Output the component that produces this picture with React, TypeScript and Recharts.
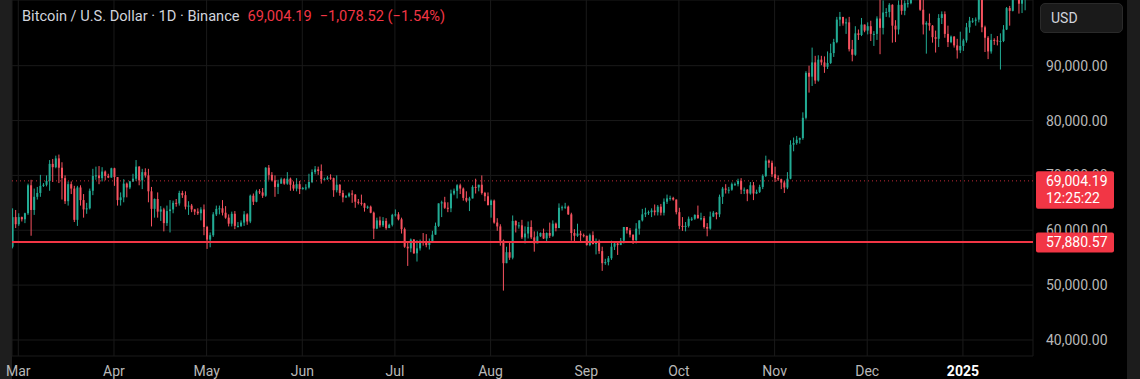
import React from 'react';
import { ComposedChart, Bar, XAxis, YAxis, CartesianGrid, ReferenceLine } from 'recharts';

// daily BTCUSD candles, Binance, 2024-02-28 .. 2025-01-22 (prices in thousands)
const START = Date.UTC(2024, 1, 28);
const DAY = 86400000;
const FIRST_OPEN = 57.0;

const closes = [
  62.4, 61.1,
  62.4, 62.0, 63.1, 68.2, 63.7, 66.1, 66.8, 68.1, 68.3, 69.0, 72.1, 71.5, 73.1, 71.4, 69.5, 65.3, 68.4, 67.6, 61.9, 67.8, 65.5, 63.8, 64.0, 67.2, 69.9, 70.0, 69.5, 70.7, 69.9, 69.6, 71.3,
  69.7, 65.5, 66.0, 68.5, 67.8, 68.9, 69.4, 71.6, 69.1, 70.6, 70.0, 67.1, 63.9, 65.7, 63.4, 63.8, 61.3, 63.5, 63.8, 65.0, 64.9, 66.8, 66.4, 64.3, 64.5, 63.8, 63.4, 63.1, 63.8, 60.6,
  58.3, 59.1, 62.9, 63.9, 64.0, 63.2, 62.3, 61.2, 63.0, 60.8, 60.8, 61.4, 62.9, 61.6, 66.3, 65.2, 67.1, 66.9, 66.3, 71.4, 70.1, 69.1, 67.9, 68.5, 69.3, 68.5, 69.4, 68.3, 67.6, 68.4, 67.5,
  67.7, 67.8, 68.8, 70.6, 71.1, 70.8, 69.3, 69.3, 69.6, 69.5, 67.3, 68.3, 66.8, 66.0, 66.2, 66.7, 66.5, 65.2, 65.0, 64.9, 64.1, 64.3, 63.2, 60.3, 61.8, 60.9, 61.7, 60.4, 61.0, 62.8,
  62.9, 62.0, 60.2, 57.0, 56.7, 58.3, 55.8, 56.7, 58.0, 57.7, 57.3, 57.9, 59.2, 60.8, 64.9, 65.1, 64.1, 64.0, 66.7, 67.2, 68.2, 67.6, 65.9, 65.4, 65.8, 67.9, 67.8, 68.3, 66.8, 66.2, 64.6,
  65.4, 61.4, 60.7, 58.1, 54.0, 56.0, 55.0, 61.7, 60.9, 60.9, 58.7, 59.4, 60.6, 58.7, 57.6, 58.9, 59.5, 58.5, 59.5, 59.0, 61.2, 60.4, 64.1, 64.2, 64.3, 62.9, 59.5, 59.0, 59.4, 59.1, 59.0,
  57.3, 59.1, 57.5, 58.0, 56.2, 54.0, 54.2, 54.9, 57.0, 57.6, 57.3, 58.1, 60.6, 60.0, 59.2, 58.2, 60.3, 61.8, 62.9, 63.2, 63.3, 63.6, 63.3, 64.3, 63.2, 65.2, 65.8, 65.9, 65.6, 63.3,
  60.8, 60.6, 60.8, 62.1, 62.1, 62.8, 62.2, 62.2, 60.6, 60.3, 62.5, 63.2, 62.9, 66.1, 67.6, 67.4, 67.4, 68.4, 68.4, 69.0, 67.4, 67.4, 66.7, 68.2, 66.7, 67.0, 67.9, 69.9, 72.7, 72.3, 70.2,
  69.5, 69.3, 68.7, 67.8, 69.4, 75.6, 75.9, 76.5, 76.8, 80.5, 88.7, 88.0, 90.6, 87.3, 91.1, 90.6, 89.8, 90.5, 92.3, 94.3, 98.4, 98.9, 97.7, 97.9, 93.0, 92.0, 95.9, 95.6, 97.5, 96.4,
  97.2, 95.8, 95.8, 98.6, 96.9, 99.7, 99.8, 101.1, 97.3, 96.6, 101.1, 100.0, 101.4, 101.4, 104.5, 106.1, 106.1, 100.2, 97.5, 97.8, 97.3, 95.2, 94.9, 98.7, 99.4, 95.8, 94.3, 95.3, 93.7, 92.8, 93.6,
  94.6, 97.0, 98.2, 98.2, 98.4, 102.2, 97.0, 95.1, 92.6, 94.7, 94.6, 94.5, 94.5, 96.6, 100.5, 100.0, 104.1, 104.6, 101.3, 102.3, 106.1, 103.7,
];

const highs = [
  64.0, 63.7,
  63.1, 62.5, 63.2, 68.5, 69.2, 67.6, 67.9, 70.1, 68.6, 70.0, 72.8, 73.0, 73.6, 73.8, 72.4, 70.0, 68.9, 68.9, 68.1, 68.1, 68.2, 66.6, 65.0, 67.6, 71.2, 71.6, 71.7, 71.5, 70.9, 70.3, 71.4,
  71.4, 69.7, 66.9, 69.3, 68.7, 69.0, 70.3, 72.8, 71.7, 71.2, 71.3, 71.2, 67.9, 65.8, 66.9, 64.4, 64.1, 64.5, 65.5, 65.4, 65.7, 67.2, 67.2, 67.1, 65.3, 64.8, 63.9, 64.0, 64.2, 64.7,
  60.8, 59.6, 63.3, 64.5, 64.5, 65.5, 64.4, 62.9, 63.4, 63.5, 61.5, 61.8, 63.5, 63.1, 66.5, 66.7, 67.4, 67.5, 67.7, 71.5, 71.9, 70.6, 70.0, 69.2, 69.6, 69.5, 70.6, 69.6, 68.9, 69.5, 69.0,
  67.9, 68.4, 70.3, 71.1, 71.7, 71.6, 72.0, 69.6, 69.9, 70.2, 69.6, 70.0, 68.4, 67.3, 66.4, 66.9, 67.3, 66.6, 65.7, 66.5, 65.0, 64.5, 64.5, 63.4, 62.3, 62.5, 62.4, 62.2, 61.2, 63.0,
  63.8, 63.3, 62.3, 60.5, 58.0, 58.5, 58.4, 58.2, 58.3, 59.5, 59.3, 58.5, 59.9, 61.4, 64.9, 65.4, 66.1, 65.1, 67.4, 67.6, 68.4, 68.5, 67.8, 67.1, 66.1, 68.2, 69.4, 68.3, 70.0, 67.0, 66.9,
  65.6, 65.6, 62.2, 61.1, 58.3, 57.0, 57.7, 62.7, 61.8, 61.5, 61.9, 60.7, 61.6, 61.8, 59.8, 59.8, 59.6, 60.3, 59.6, 61.4, 61.8, 61.4, 64.9, 64.5, 65.0, 64.5, 63.2, 60.2, 61.2, 59.9, 59.4,
  59.0, 59.4, 59.8, 58.5, 58.3, 57.0, 54.8, 55.3, 58.1, 58.0, 57.9, 58.6, 60.6, 60.6, 60.4, 59.2, 61.3, 61.8, 63.9, 64.1, 63.6, 64.0, 64.7, 64.6, 64.8, 65.8, 66.5, 66.3, 66.1, 65.6,
  64.1, 62.4, 61.5, 62.5, 62.4, 62.9, 64.5, 63.2, 62.6, 61.3, 63.4, 63.5, 63.3, 66.5, 67.9, 68.4, 67.9, 68.7, 68.7, 69.4, 69.5, 67.8, 67.5, 68.8, 68.8, 67.4, 68.3, 70.2, 73.6, 72.9, 72.7,
  71.6, 70.0, 69.4, 69.0, 70.6, 76.4, 76.9, 77.2, 76.9, 81.5, 89.0, 90.0, 93.3, 91.8, 91.9, 91.8, 91.7, 92.6, 94.0, 94.9, 98.9, 99.8, 98.8, 98.6, 98.9, 94.7, 97.2, 96.6, 98.7, 97.5,
  97.9, 98.2, 96.3, 99.0, 104.1, 101.9, 100.5, 101.4, 101.2, 98.3, 101.9, 102.5, 101.9, 102.7, 105.3, 107.8, 108.4, 106.5, 102.8, 98.1, 99.5, 97.4, 96.4, 99.4, 99.9, 99.9, 97.3, 95.5, 95.4, 94.9, 96.2,
  94.9, 97.8, 98.9, 98.7, 98.8, 102.5, 102.7, 97.3, 95.4, 95.8, 95.0, 95.4, 95.9, 97.4, 100.7, 100.9, 105.9, 104.9, 106.3, 109.6, 107.2, 106.3,
];

const lows = [
  56.7, 60.4,
  60.8, 61.6, 61.3, 62.8, 59.0, 62.8, 65.6, 66.1, 67.9, 68.0, 67.2, 68.8, 71.3, 68.6, 65.6, 64.8, 64.5, 66.6, 61.5, 60.8, 64.5, 62.3, 63.0, 63.8, 66.4, 69.2, 68.4, 68.9, 69.1, 69.5, 69.6,
  68.1, 64.5, 64.5, 65.1, 66.0, 67.5, 68.8, 69.0, 68.2, 67.5, 69.6, 65.1, 60.7, 62.3, 62.3, 61.7, 59.8, 60.8, 59.6, 63.1, 64.3, 64.5, 65.9, 63.8, 62.8, 63.3, 62.8, 62.8, 61.8, 59.1,
  56.6, 56.9, 58.8, 62.6, 62.9, 62.7, 62.1, 60.7, 60.7, 60.2, 60.5, 60.6, 60.8, 61.0, 61.3, 64.6, 65.1, 66.6, 65.9, 66.1, 69.2, 68.9, 66.1, 66.6, 68.5, 68.3, 68.3, 67.2, 67.2, 67.1, 66.6,
  67.4, 67.3, 67.6, 68.6, 70.2, 70.1, 68.5, 69.2, 69.2, 69.2, 66.1, 66.9, 66.3, 65.1, 65.9, 66.0, 65.0, 64.1, 64.7, 64.5, 63.4, 63.9, 63.1, 58.4, 60.2, 60.5, 60.6, 60.1, 60.4, 60.7,
  62.5, 61.8, 59.4, 56.8, 53.5, 56.0, 55.7, 54.3, 56.3, 57.2, 56.9, 56.5, 57.8, 59.2, 60.6, 62.4, 63.9, 63.3, 63.3, 66.4, 65.8, 66.6, 65.4, 65.1, 63.5, 65.8, 66.7, 67.1, 66.5, 65.3, 64.5,
  62.3, 61.2, 59.9, 57.2, 49.0, 54.0, 54.6, 54.7, 59.6, 60.3, 58.4, 57.6, 58.5, 58.4, 56.1, 57.7, 58.8, 58.4, 57.9, 58.6, 58.8, 59.8, 60.4, 63.6, 63.9, 62.8, 58.1, 57.9, 58.8, 57.7, 58.7,
  57.2, 57.1, 57.4, 55.6, 55.7, 52.6, 53.7, 53.6, 54.6, 56.4, 55.5, 57.3, 57.6, 59.4, 58.7, 57.5, 57.6, 59.2, 61.6, 62.4, 62.8, 62.4, 62.7, 62.7, 62.7, 62.7, 64.8, 65.4, 65.4, 62.9,
  60.2, 59.9, 59.8, 60.5, 61.7, 61.9, 62.1, 61.8, 60.3, 58.9, 60.1, 62.4, 62.0, 62.4, 64.8, 66.7, 66.7, 67.2, 68.1, 68.0, 66.6, 66.6, 65.3, 66.5, 65.5, 66.6, 66.8, 67.5, 69.7, 71.4, 69.7,
  68.8, 69.0, 67.5, 66.8, 67.5, 69.3, 74.4, 75.6, 75.8, 76.5, 80.2, 85.1, 86.3, 86.7, 87.1, 90.1, 88.7, 89.4, 90.3, 91.6, 94.1, 97.2, 97.3, 95.8, 92.6, 90.8, 91.8, 94.7, 95.4, 96.1,
  95.7, 94.5, 93.6, 94.7, 92.1, 95.7, 98.9, 98.8, 94.2, 94.3, 95.7, 99.3, 99.2, 100.6, 101.2, 103.3, 105.3, 100.0, 95.7, 92.2, 96.4, 94.2, 92.4, 93.4, 97.6, 95.1, 93.4, 94.1, 93.3, 91.3, 92.3,
  92.7, 94.2, 96.0, 97.8, 97.3, 97.9, 96.1, 92.5, 91.2, 92.2, 93.8, 93.7, 89.3, 94.3, 96.5, 97.3, 99.9, 102.3, 99.5, 99.6, 100.1, 103.3,
];

const monthTicks = [
  { date: '2024-03-01', label: 'Mar' },
  { date: '2024-04-01', label: 'Apr' },
  { date: '2024-05-01', label: 'May' },
  { date: '2024-06-01', label: 'Jun' },
  { date: '2024-07-01', label: 'Jul' },
  { date: '2024-08-01', label: 'Aug' },
  { date: '2024-09-01', label: 'Sep' },
  { date: '2024-10-01', label: 'Oct' },
  { date: '2024-11-01', label: 'Nov' },
  { date: '2024-12-01', label: 'Dec' },
  { date: '2025-01-01', label: '2025', bold: true },
];

const priceTicks = [40000, 50000, 60000, 70000, 80000, 90000];

const lastPrice = 69004.19;
const lastChange = '−1,078.52';
const lastChangePct = '(−1.54%)';
const countdown = '12:25:22';
const hLinePrice = 57880.57;

const UP = '#22ab94';
const DOWN = '#f7525f';
const RED = '#f23645';
const FONT = 'Roboto, sans-serif';

const X_DOMAIN: [number, number] = [-0.04, 330.7];
const Y_DOMAIN: [number, number] = [37078, 101977];
const MARGIN = { top: 0, right: 0, bottom: 0, left: 12 };

const data = closes.map((c, i) => ({
  t: i,
  open: (i === 0 ? FIRST_OPEN : closes[i - 1]) * 1000,
  close: c * 1000,
  high: highs[i] * 1000,
  low: lows[i] * 1000,
}));

const tickDays = monthTicks.map((m) => Math.round((Date.parse(m.date) - START) / DAY));

const fmt = (v: number) =>
  v.toLocaleString('en-US', { minimumFractionDigits: 2, maximumFractionDigits: 2 });

function Candle(props: any) {
  const { x, width, payload } = props;
  let { y, height } = props;
  if (height < 0) {
    y += height;
    height = -height;
  }
  const { open, close, high, low } = payload;
  const color = close >= open ? UP : DOWN;
  const k = high > low ? height / (high - low) : 0;
  const yO = y + (high - open) * k;
  const yC = y + (high - close) * k;
  const top = Math.min(yO, yC);
  const bh = Math.max(Math.abs(yO - yC), 1);
  const cx = x + width / 2;
  return (
    <g>
      <rect x={cx - 0.5} y={y} width={1} height={Math.max(height, 1)} fill={color} />
      <rect x={x} y={top} width={width} height={bh} fill={color} />
    </g>
  );
}

function MonthTick(props: any) {
  const { x, y, payload } = props;
  const i = tickDays.indexOf(payload.value);
  const m = monthTicks[i];
  if (!m) return null;
  return (
    <text x={x} y={y} dy={20} textAnchor="middle" fontSize={14} fontFamily={FONT}
      fontWeight={m.bold ? 700 : 400} fill={m.bold ? '#ffffff' : '#b8b8b8'}>
      {m.label}
    </text>
  );
}

function PriceTick(props: any) {
  const { x, y, payload } = props;
  return (
    <text x={x} y={y} dy={5} textAnchor="start" fontSize={14} fontFamily={FONT} fill="#b8b8b8">
      {fmt(payload.value)}
    </text>
  );
}

function PriceTag(props: any) {
  const { viewBox, lines } = props;
  if (!viewBox) return null;
  const left = viewBox.x + viewBox.width + 3;
  const cy = viewBox.y;
  const h = lines.length === 1 ? 20 : 37.5;
  return (
    <g>
      <rect x={left} y={cy - 9.5} width={78} height={h} rx={2} fill={RED} />
      {lines.map((s: string, i: number) => (
        <text key={i} x={left + 10} y={cy + 5 + i * 17.5} fontSize={14} fontFamily={FONT} fill="#ffffff">
          {s}
        </text>
      ))}
    </g>
  );
}

const layer: React.CSSProperties = { position: 'absolute', left: 0, top: 0 };

export default function App() {
  return (
    <div style={{ position: 'fixed', left: 0, top: 0, width: 1140, height: 379, background: '#000', overflow: 'hidden', fontFamily: FONT }}>
      <div style={{ position: 'absolute', left: 0, top: 0, width: 12, height: 379, background: '#1e1e1e' }} />
      <div style={{ position: 'absolute', left: 1127, top: 0, width: 13, height: 379, background: '#1c1c1c' }} />
      <div style={layer}>
        <ComposedChart width={1140} height={379} data={data} margin={MARGIN}>
          <CartesianGrid stroke="#1a1a1a" />
          <XAxis type="number" dataKey="t" domain={X_DOMAIN} allowDataOverflow ticks={tickDays}
            interval={0} height={23} axisLine={false} tickLine={false} tickSize={0} tickMargin={0} tick={<MonthTick />} />
          <YAxis orientation="right" width={107} domain={Y_DOMAIN} allowDataOverflow ticks={priceTicks}
            interval={0} axisLine={false} tickLine={false} tickSize={0} tickMargin={13} tick={<PriceTick />} />
          <Bar dataKey={(d: any) => [d.low, d.high]} barSize={2} shape={Candle} isAnimationActive={false} />
          <ReferenceLine y={hLinePrice} stroke={RED} strokeWidth={2} />
          <ReferenceLine y={lastPrice} stroke={RED} strokeOpacity={0.8} strokeDasharray="1 3" />
        </ComposedChart>
      </div>
      {/* price tags on top of the axis labels, same scales */}
      <div style={layer}>
        <ComposedChart width={1140} height={379} data={data} margin={MARGIN}>
          <XAxis type="number" dataKey="t" domain={X_DOMAIN} allowDataOverflow height={23} tick={false} axisLine={false} tickLine={false} />
          <YAxis orientation="right" width={107} domain={Y_DOMAIN} allowDataOverflow tick={false} axisLine={false} tickLine={false} />
          <ReferenceLine y={hLinePrice} stroke="none" label={<PriceTag lines={[fmt(hLinePrice)]} />} />
          <ReferenceLine y={lastPrice} stroke="none" label={<PriceTag lines={[fmt(lastPrice), countdown]} />} />
        </ComposedChart>
      </div>
      <div style={{ position: 'absolute', left: 22, top: 7, fontSize: 14.6, lineHeight: '18px', color: '#d1d4dc', whiteSpace: 'nowrap' }}>
        Bitcoin / U.S. Dollar · 1D · Binance
        <span style={{ color: RED, marginLeft: 8 }}>{fmt(lastPrice)}</span>
        <span style={{ color: RED, marginLeft: 8 }}>{lastChange} {lastChangePct}</span>
      </div>
      <div style={{ position: 'absolute', left: 1040, top: 3, width: 71, height: 28, borderRadius: 5, background: '#1a1a1a', border: '1px solid #2a2a2a', color: '#d1d4dc', fontSize: 14, lineHeight: '28px', paddingLeft: 10 }}>
        USD
      </div>
    </div>
  );
}
